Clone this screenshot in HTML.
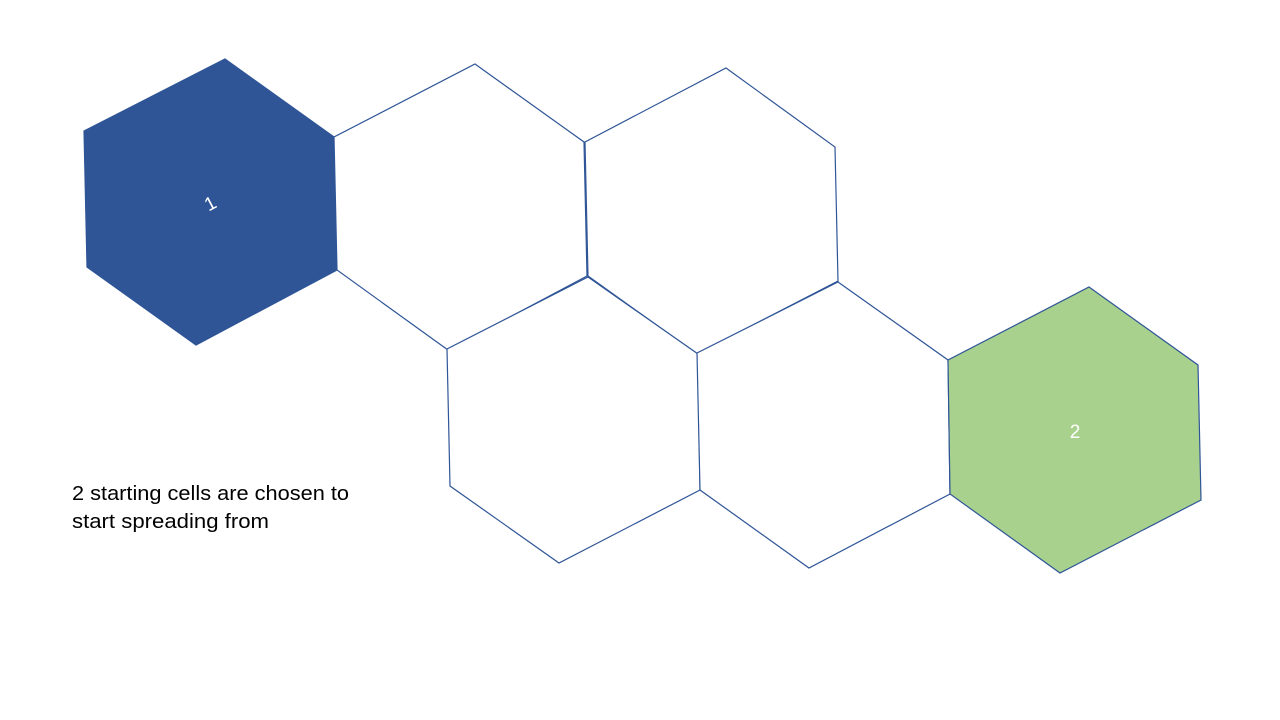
<!DOCTYPE html>
<html>
<head>
<meta charset="utf-8">
<style>
  html, body { margin: 0; padding: 0; background: #ffffff; }
  body { width: 1280px; height: 720px; overflow: hidden; }
  svg { display: block; }
  text { font-family: "Liberation Sans", sans-serif; }
</style>
</head>
<body>
<svg width="1280" height="720" viewBox="0 0 1280 720">
  <rect x="0" y="0" width="1280" height="720" fill="#ffffff"/>
  <polygon points="225,59 334,137 337,270 196,345 87,267 84,131" fill="#2F5597" stroke="#2F5597" stroke-width="1.2"/>
  <polygon points="475,64 584,142 587,276 448,350 337,270 334,137" fill="#ffffff" stroke="#2F5597" stroke-width="1.2"/>
  <polygon points="726,68 835,147 838,281 697,354 588,276 585,142" fill="#ffffff" stroke="#2F5597" stroke-width="1.2"/>
  <polygon points="588,277 698,354 700,490 559,563 450,486 447,349" fill="#ffffff" stroke="#2F5597" stroke-width="1.2"/>
  <polygon points="838,282 948,360 950,494 809,568 700,490 697,353" fill="#ffffff" stroke="#2F5597" stroke-width="1.2"/>
  <polygon points="1089,287 1198,365 1201,500 1060,573 950,494 948,360" fill="#A9D18E" stroke="#2F5597" stroke-width="1.2"/>
  <text x="210" y="210" fill="#ffffff" font-size="19" text-anchor="middle" transform="rotate(-28 210 203)">1</text>
  <text x="1075" y="438" fill="#ffffff" font-size="19" text-anchor="middle">2</text>
  <text x="72" y="500" fill="#000000" font-size="20" textLength="277" lengthAdjust="spacingAndGlyphs">2 starting cells are chosen to</text>
  <text x="72" y="528" fill="#000000" font-size="20" textLength="197" lengthAdjust="spacingAndGlyphs">start spreading from</text>
</svg>
</body>
</html>
